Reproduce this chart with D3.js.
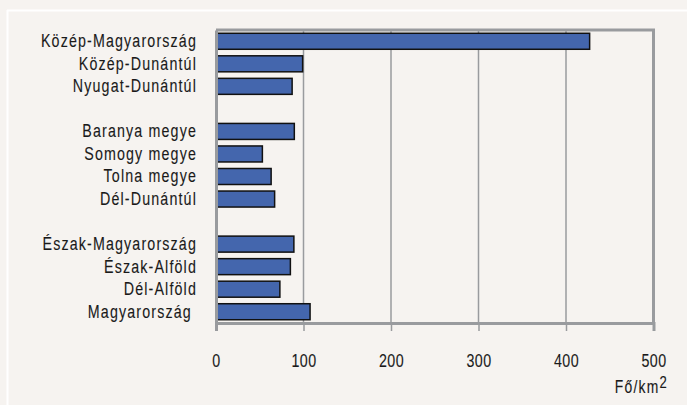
<!DOCTYPE html>
<html>
<head>
<meta charset="utf-8">
<script src="https://cdn.jsdelivr.net/npm/d3@7"></script>
<style>
  html, body { margin: 0; padding: 0; background: #f6f3f0; }
  svg { display: block; }
  text { font-family: "Liberation Sans", Arial, sans-serif; fill: #1a1a1a; stroke: #1a1a1a; stroke-width: 0.12px; }
</style>
</head>
<body>
<script>
// ---- data ----
const categories = [
  "Közép-Magyarország", "Közép-Dunántúl", "Nyugat-Dunántúl", "",
  "Baranya megye", "Somogy megye", "Tolna megye", "Dél-Dunántúl", " ",
  "Észak-Magyarország", "Észak-Alföld", "Dél-Alföld", "Magyarország "
];
const values = [427, 99, 87, null, 89.5, 53, 63, 67, null, 89, 85, 73, 107.5];
const xTicks = [0, 100, 200, 300, 400, 500];
const unitLabel = "Fő/km";
const unitSup = "2";

// ---- layout ----
const W = 687, H = 405;
const mLeft = 216, mRight = 653.5, mTop = 30, mBottom = 323;
const SX = 0.77; // narrow font emulation

const svg = d3.select("body").append("svg").attr("width", W).attr("height", H);

svg.append("rect").attr("x", 0).attr("y", 0).attr("width", W).attr("height", H).attr("fill", "#f6f3f0");
// white frame lines
svg.append("line").attr("x1", 7).attr("x2", W).attr("y1", 10.5).attr("y2", 10.5).attr("stroke", "#fff").attr("stroke-width", 2);
svg.append("line").attr("x1", 7.5).attr("x2", 7.5).attr("y1", 10).attr("y2", H).attr("stroke", "#fff").attr("stroke-width", 2);

const x = d3.scaleLinear().domain([0, 500]).range([mLeft, mRight]);
const y = d3.scaleBand().domain(categories).range([mTop, mBottom]).paddingInner(0.29).paddingOuter(0.145);

// gridlines
svg.append("g").selectAll("line").data(xTicks.filter(t => t > 0 && t < 500)).join("line")
  .attr("x1", d => x(d)).attr("x2", d => x(d))
  .attr("y1", mTop).attr("y2", mBottom)
  .attr("stroke", "#999b9e").attr("stroke-width", 1.5);

// plot border (top & right)
svg.append("path")
  .attr("d", `M${mLeft},${mTop}H${mRight}V${mBottom}`)
  .attr("fill", "none").attr("stroke", "#999b9e").attr("stroke-width", 3);

// bars
const data = categories.map((c, i) => ({ c, v: values[i] })).filter(d => d.v != null);
svg.append("g").selectAll("rect").data(data).join("rect")
  .attr("x", x(0))
  .attr("y", d => y(d.c))
  .attr("width", d => x(d.v) - x(0))
  .attr("height", y.bandwidth())
  .attr("fill", "#4466ad")
  .attr("stroke", "#111")
  .attr("stroke-width", 1.5);

// x axis
const xAxis = d3.axisBottom(x).tickValues(xTicks).tickSize(8).tickPadding(23);
const gx = svg.append("g").attr("transform", `translate(0,${mBottom})`).call(xAxis);
gx.select(".domain").attr("stroke", "#999b9e").attr("stroke-width", 3);
gx.selectAll(".tick line").attr("stroke", "#999b9e").attr("stroke-width", 1.5);
gx.selectAll(".tick text").attr("font-size", 18.5).attr("fill", "#1a1a1a")
  .attr("font-family", '"Liberation Sans", Arial, sans-serif')
  .attr("transform", `scale(${SX},1)`)
  .style("letter-spacing", "0.6px");

// y axis (line only, labels)
const yAxis = d3.axisLeft(y).tickSize(0).tickPadding(19);
const gy = svg.append("g").attr("transform", `translate(${mLeft},0)`).call(yAxis);
gy.select(".domain").attr("stroke", "#999b9e").attr("stroke-width", 3);
gy.selectAll(".tick text").attr("font-size", 18.5).attr("fill", "#1a1a1a")
  .attr("font-family", '"Liberation Sans", Arial, sans-serif')
  .attr("x", -19 / SX)
  .attr("transform", `scale(${SX},1)`)
  .style("letter-spacing", "1.5px")
  .style("white-space", "pre");

// unit label
const ul = svg.append("text").attr("transform", `translate(668,393) scale(${SX},1)`)
  .attr("text-anchor", "end").attr("font-size", 18).style("letter-spacing", "1.6px");
ul.append("tspan").text(unitLabel);
ul.append("tspan").attr("dy", -5).attr("font-size", 17).text(unitSup);
</script>
</body>
</html>
